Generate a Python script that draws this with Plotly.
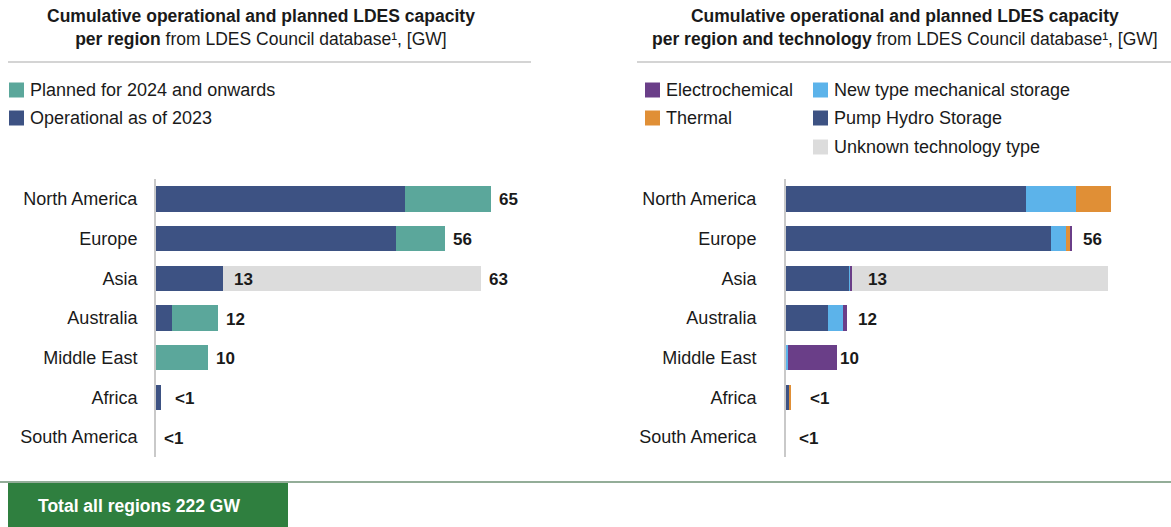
import plotly.graph_objects as go

# ---- data -------------------------------------------------------------
regions = ["North America", "Europe", "Asia", "Australia",
           "Middle East", "Africa", "South America"]

# Left panel: status of capacity, GW
operational = [48.3, 46.6, 13.0, 3.1, 0.0, 0.9, 0.0]
planned = [16.7, 9.4, 0.0, 8.9, 10.0, 0.0, 0.0]
unknown_status = [0.0, 0.0, 50.0, 0.0, 0.0, 0.0, 0.0]
left_labels = ["65", "56", "63", "12", "10", "<1", "<1"]
left_label_pos = [65, 56, 63, 12, 10, 0.9, 0.0]
asia_operational_label = "13"

# Right panel: technology split, GW
pump_hydro = [47.0, 51.8, 12.5, 8.3, 0.0, 0.7, 0.0]
new_mechanical = [9.8, 2.9, 0.2, 2.9, 0.4, 0.0, 0.0]
thermal = [6.7, 1.0, 0.0, 0.0, 0.0, 0.2, 0.0]
electrochemical = [0.0, 0.3, 0.3, 0.8, 9.6, 0.0, 0.0]
unknown_tech = [0.0, 0.0, 50.0, 0.0, 0.0, 0.0, 0.0]
right_labels = ["", "56", "13", "12", "10", "<1", "<1"]
right_label_pos = [63.5, 56, 13, 12, 10, 0.9, 0.0]

total_text = "Total all regions 222 GW"

# ---- styling ----------------------------------------------------------
W, H = 1171, 527
FONT = "Liberation Sans, Arial, Helvetica, sans-serif"
TXT = "#1a1a1a"
C_NAVY = "#3d5283"
C_TEAL = "#5ba79b"
C_GREY = "#dcdcdc"
C_LBLUE = "#5cb3ea"
C_ORANGE = "#e08f36"
C_PURPLE = "#6a3e88"
C_GREEN = "#2f7f3f"


def px(x):
    return x / W


def py(y):
    return 1 - y / H


fig = go.Figure()


def add_bar(values, color, xaxis, yaxis):
    fig.add_trace(go.Bar(
        y=regions, x=values, orientation="h", marker_color=color,
        marker_line_width=0, width=0.64, xaxis=xaxis, yaxis=yaxis,
        showlegend=False, hoverinfo="x+y"))


# left panel stacks
add_bar(operational, C_NAVY, "x", "y")
add_bar(planned, C_TEAL, "x", "y")
add_bar(unknown_status, C_GREY, "x", "y")

# right panel stacks
add_bar(pump_hydro, C_NAVY, "x2", "y2")
add_bar(new_mechanical, C_LBLUE, "x2", "y2")
add_bar(thermal, C_ORANGE, "x2", "y2")
add_bar(electrochemical, C_PURPLE, "x2", "y2")
add_bar(unknown_tech, C_GREY, "x2", "y2")

XRANGE = [0, 72]
YDOM = [py(457), py(179)]
axis_x = dict(range=XRANGE, visible=False, fixedrange=True)
axis_y = dict(autorange="reversed", showline=True, linecolor="#c9c9c9",
              linewidth=2, ticks="", showgrid=False, zeroline=False,
              tickfont=dict(family=FONT, size=18, color=TXT),
              domain=YDOM)

fig.update_layout(
    width=W, height=H, barmode="stack", bargap=0.36,
    margin=dict(l=0, r=0, t=0, b=0),
    plot_bgcolor="white", paper_bgcolor="white",
    font=dict(family=FONT, color=TXT),
    xaxis=dict(axis_x, domain=[px(156), px(156 + 371)], anchor="y"),
    yaxis=dict(axis_y, anchor="x", ticklabelstandoff=13),
    xaxis2=dict(axis_x, domain=[px(786), px(786 + 368)], anchor="y2"),
    yaxis2=dict(axis_y, anchor="x2", ticklabelstandoff=24),
)

ann = []
VAL_FONT = dict(size=17, color=TXT)

# value labels
for r, lab, pos in zip(regions, left_labels, left_label_pos):
    shift = 12 if lab == "<1" and pos > 0 else 6
    ann.append(dict(x=pos, y=r, xref="x", yref="y", text=f"<b>{lab}</b>",
                    showarrow=False, xanchor="left", xshift=shift, yshift=-1,
                    font=VAL_FONT))
ann.append(dict(x=operational[2], y=regions[2], xref="x", yref="y",
                text=f"<b>{asia_operational_label}</b>", showarrow=False,
                xanchor="left", xshift=9, yshift=-1, font=VAL_FONT))

for r, lab, pos in zip(regions, right_labels, right_label_pos):
    if not lab:
        continue
    if lab == "<1":
        shift = 17 if pos > 0 else 11
    elif r == "Asia":
        shift = 14
    elif r == "Middle East":
        shift = 1
    else:
        shift = 9
    ann.append(dict(x=pos, y=r, xref="x2", yref="y2", text=f"<b>{lab}</b>",
                    showarrow=False, xanchor="left", xshift=shift, yshift=-1,
                    font=VAL_FONT))

# panel titles
ann.append(dict(x=px(261), y=py(27.5), xref="paper", yref="paper",
                text="<b>Cumulative operational and planned LDES capacity</b><br>"
                     "<b>per region</b> from LDES Council database¹, [GW]",
                showarrow=False, xanchor="center", yanchor="middle",
                align="center", font=dict(size=17.5, color=TXT)))
ann.append(dict(x=px(905), y=py(27.5), xref="paper", yref="paper",
                text="<b>Cumulative operational and planned LDES capacity</b><br>"
                     "<b>per region and technology</b> from LDES Council database¹, [GW]",
                showarrow=False, xanchor="center", yanchor="middle",
                align="center", font=dict(size=17.5, color=TXT)))

shapes = [
    dict(type="line", xref="paper", yref="paper", x0=px(8), x1=px(531),
         y0=py(62), y1=py(62), line=dict(color="#d4d4d4", width=2)),
    dict(type="line", xref="paper", yref="paper", x0=px(637), x1=px(1171),
         y0=py(62), y1=py(62), line=dict(color="#d4d4d4", width=2)),
    dict(type="line", xref="paper", yref="paper", x0=0, x1=1,
         y0=py(482), y1=py(482), line=dict(color="#93ad98", width=2)),
    dict(type="rect", xref="paper", yref="paper", x0=px(8), x1=px(288),
         y0=py(527), y1=py(483), fillcolor=C_GREEN, line_width=0),
]

# legend swatches + labels
legend_items = [
    (9, 90, C_TEAL, "Planned for 2024 and onwards"),
    (9, 118, C_NAVY, "Operational as of 2023"),
    (645, 90, C_PURPLE, "Electrochemical"),
    (645, 118, C_ORANGE, "Thermal"),
    (813, 90, C_LBLUE, "New type mechanical storage"),
    (813, 118, C_NAVY, "Pump Hydro Storage"),
    (813, 147, C_GREY, "Unknown technology type"),
]
for x0, yc, col, label in legend_items:
    shapes.append(dict(type="rect", xref="paper", yref="paper",
                       x0=px(x0), x1=px(x0 + 15), y0=py(yc + 7.5), y1=py(yc - 7.5),
                       fillcolor=col, line_width=0))
    ann.append(dict(x=px(x0 + 19), y=py(yc), xref="paper", yref="paper",
                    text=label, showarrow=False, xanchor="left",
                    yanchor="middle", font=dict(size=18, color=TXT)))

ann.append(dict(x=px(36), y=py(506), xref="paper", yref="paper",
                text=f"<b>{total_text}</b>", showarrow=False,
                xanchor="left", yanchor="middle",
                font=dict(size=17.5, color="white")))

fig.update_layout(annotations=ann, shapes=shapes)

fig.write_html("out.html")
